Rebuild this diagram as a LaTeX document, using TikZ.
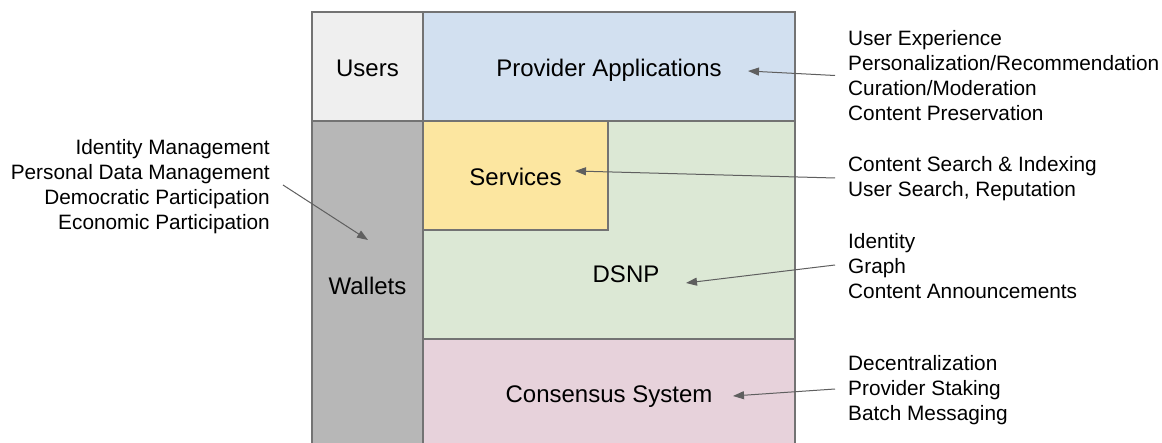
\documentclass[tikz,border=0pt]{standalone}
\usepackage{fontspec}
\setmainfont{Liberation Sans}
\usetikzlibrary{arrows.meta}
\definecolor{bordergray}{HTML}{737373}
\definecolor{arrowgray}{HTML}{5F5F5F}
\definecolor{usersfill}{HTML}{EFEFEF}
\definecolor{provfill}{HTML}{D2E0F0}
\definecolor{walletfill}{HTML}{B7B7B7}
\definecolor{dsnpfill}{HTML}{DCE8D5}
\definecolor{servfill}{HTML}{FCE6A0}
\definecolor{consfill}{HTML}{E7D2DB}
\tikzset{
  bigfont/.style={font=\fontsize{24}{28}\selectfont, text height=17.2pt, text depth=0pt},
  layer/.style={draw=bordergray, line width=1.2pt, anchor=north west, inner sep=0pt, outer sep=0pt, bigfont},
  sidetext/.style={inner ysep=0pt, inner xsep=13pt, font=\fontsize{20.8}{25}\selectfont},
  arr/.style={draw=arrowgray, line width=1pt, -{Triangle[length=11pt,width=8pt]}}
}
\begin{document}
\begin{tikzpicture}[x=1pt,y=-1pt]
\useasboundingbox (0,0) rectangle (1162,443);
\clip (0,0) rectangle (1162,443);
\fill[white] (0,0) rectangle (1162,443);
% layers
\node[layer, fill=usersfill, minimum width=111pt, minimum height=109pt] (users) at (312,12) {\raisebox{-1pt}{Users}};
\node[layer, fill=provfill, minimum width=372pt, minimum height=109pt] (prov) at (423,12) {\raisebox{-1pt}{Provider Applications}};
\node[layer, fill=walletfill, minimum width=111pt, minimum height=330pt] (wallets) at (312,121) {Wallets};
\node[layer, fill=dsnpfill, minimum width=372pt, minimum height=218pt] (dsnpbox) at (423,121) {};
\node[layer, fill=servfill, minimum width=185pt, minimum height=109pt] (serv) at (423,121) {\raisebox{-1pt}{Services}};
\node[layer, fill=consfill, minimum width=372pt, minimum height=112pt] (cons) at (423,339) {};
\node[bigfont, inner sep=0pt] (dsnp) at (626,274) {DSNP};
\node[bigfont, inner sep=0pt] (conslbl) at (609,393.5) {Consensus System};
% side texts
\node[sidetext, anchor=west, align=left] (g1) at (835,75.5) {User Experience\\Personalization/Recommendation\\Curation/Moderation\\Content Preservation};
\node[sidetext, anchor=west, align=left] (g2) at (835,178.5) {Content Search \& Indexing\\User Search, Reputation};
\node[sidetext, anchor=west, align=left] (g3) at (835,266) {Identity\\Graph\\Content Announcements};
\node[sidetext, anchor=west, align=left] (g4) at (835,390) {Decentralization\\Provider Staking\\Batch Messaging};
\node[sidetext, anchor=east, align=right] (g0) at (283,186.5) {Identity Management\\Personal Data Management\\Democratic Participation\\Economic Participation};
% arrow tips
\coordinate (tprov) at (748,71);
\coordinate (tserv) at (575,171);
\coordinate (tdsnp) at (686,283);
\coordinate (tcons) at (733,396);
\coordinate (twall) at (368,240);
\draw[arr] (g1.west) -- (tprov);
\draw[arr] ([yshift=0.5pt]g2.west) -- (tserv);
\draw[arr] ([yshift=1pt]g3.west) -- (tdsnp);
\draw[arr] ([yshift=1pt]g4.west) -- (tcons);
\draw[arr] ([yshift=1.5pt]g0.east) -- (twall);
\end{tikzpicture}
\end{document}
